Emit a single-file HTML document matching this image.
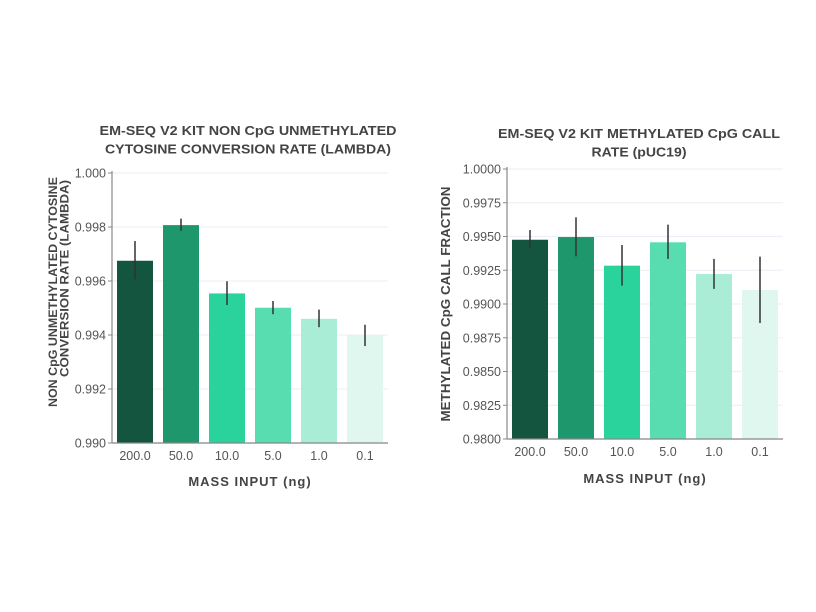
<!DOCTYPE html>
<html><head><meta charset="utf-8"><style>
body{margin:0;background:#fff}
svg{display:block;font-family:"Liberation Sans",sans-serif}
</style></head><body>
<svg id="c" width="816" height="612" xmlns="http://www.w3.org/2000/svg"></svg>
<script>
const categories=["200.0","50.0","10.0","5.0","1.0","0.1"];
const colors=["#13553e","#1e976d","#2bd39c","#57ddb0","#aaedd6","#e0f7ef"];
const leftValues=[0.99675,0.99807,0.99554,0.99501,0.9946,0.9940];
const leftLow=[0.99606,0.99786,0.99511,0.99477,0.99429,0.99359];
const leftHigh=[0.99748,0.99831,0.99599,0.99526,0.99494,0.99438];
const leftTicks=[0.990,0.992,0.994,0.996,0.998,1.000];
const rightValues=[0.99476,0.99496,0.99284,0.99457,0.99222,0.99104];
const rightLow=[0.99412,0.99353,0.99136,0.99334,0.99112,0.98859];
const rightHigh=[0.99548,0.99642,0.99437,0.99588,0.99334,0.99351];
const rightTicks=[0.98,0.9825,0.985,0.9875,0.99,0.9925,0.995,0.9975,1.0];
const NS="http://www.w3.org/2000/svg";
const svg=document.getElementById('c');
function mk(tag,attrs,parent){const e=document.createElementNS(NS,tag);for(const k in attrs)e.setAttribute(k,attrs[k]);(parent||svg).appendChild(e);return e;}
function txt(s,attrs,parent){const e=mk('text',attrs,parent);e.textContent=s;return e;}
function chart(o){
  const g=mk('g',{});
  
  
  const y=v=>o.y0-(v-o.vmin)/(o.vmax-o.vmin)*(o.y0-o.y1);
  o.ticks.forEach(t=>{
    const gl=mk('line',{x1:o.x0,x2:o.x1,y1:y(t),y2:y(t),stroke:"#eef0f7","stroke-width":1.2},g);
    
    
    mk('line',{x1:o.x0-4,x2:o.x0,y1:y(t),y2:y(t),stroke:"#888"},g);
    const tl=txt(t.toFixed(o.dec),{x:o.x0-6,y:y(t)+4.5,"text-anchor":"end","font-size":12.5,fill:"#555"},g);
    
    
  });
  const step=(o.x1-o.x0)/categories.length;
  categories.forEach((c,i)=>{
    const cx=o.x0+step*(i+0.5);
    const b=mk('rect',{x:cx-18,y:y(o.vals[i]),width:36,height:o.y0-y(o.vals[i]),fill:colors[i]},g);
    
    
    const e=mk('line',{x1:cx,x2:cx,y1:y(o.hi[i]),y2:y(o.lo[i]),stroke:"#333","stroke-width":1.5},g);
    
    
    const xl=txt(c,{x:cx,y:o.y0+17,"text-anchor":"middle","font-size":12.5,fill:"#555"},g);
    
    
  });
  mk('line',{x1:o.x0,x2:o.x0,y1:o.y1-2,y2:o.y0,stroke:"#888","stroke-width":1.2},g);
  mk('line',{x1:o.x0,x2:o.x1,y1:o.y0,y2:o.y0,stroke:"#888","stroke-width":1.2},g);
  o.title.forEach((l,i)=>{
    const t=txt(l[0],{x:o.tcx,y:o.ty+i*18.5,"text-anchor":"middle","font-size":13,"font-weight":"bold",fill:"#444",textLength:l[1],lengthAdjust:"spacingAndGlyphs"},g);
    
    
  });
  const xt=txt("MASS INPUT (ng)",{x:(o.x0+o.x1)/2,y:o.xty,"text-anchor":"middle","font-size":13,"font-weight":"bold",fill:"#444","letter-spacing":"1"},g);
  
  
  o.ytitle.forEach(l=>{
    const yx=l[2], yc=l[3];
    const t=txt(l[0],{x:yx,y:yc,transform:`rotate(-90 ${yx} ${yc})`,"text-anchor":"middle","font-size":l[4],"font-weight":"bold",fill:"#444",textLength:l[1],lengthAdjust:"spacingAndGlyphs"},g);
    
    
  });
}
chart({name:'left-chart',x0:112,x1:388,y0:443,y1:173,vmin:0.990,vmax:1.000,ticks:leftTicks,dec:3,vals:leftValues,lo:leftLow,hi:leftHigh,
  title:[["EM-SEQ V2 KIT NON CpG UNMETHYLATED",297],["CYTOSINE CONVERSION RATE (LAMBDA)",286]],tcx:248,ty:135,xty:486,
  ytitle:[["NON CpG UNMETHYLATED CYTOSINE",230,57,292,11.5],["CONVERSION RATE (LAMBDA)",197,68.5,278.5,11.5]]});
chart({name:'right-chart',x0:507,x1:783,y0:439,y1:169,vmin:0.98,vmax:1.0,ticks:rightTicks,dec:4,vals:rightValues,lo:rightLow,hi:rightHigh,
  title:[["EM-SEQ V2 KIT METHYLATED CpG CALL",282],["RATE (pUC19)",95]],tcx:639,ty:138,xty:483,
  ytitle:[["METHYLATED CpG CALL FRACTION",235,450,304,12.5]]});
</script>
</body></html>
